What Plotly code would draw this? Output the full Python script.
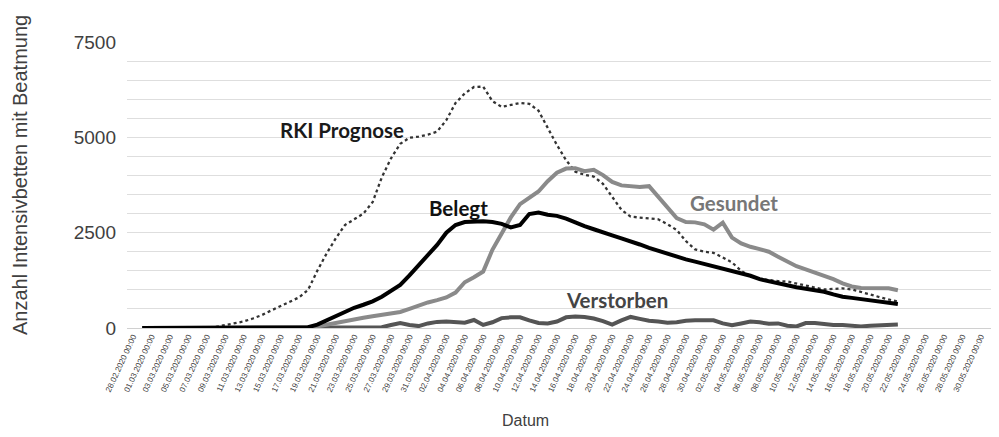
import pandas as pd
import plotly.graph_objects as go

# daily dates 29.02.2020 .. 21.05.2020
dates = pd.date_range("2020-02-29", "2020-05-21", freq="D")

belegt = [0] * 18 + [
    20, 90, 200, 330, 440, 530, 610, 700, 820, 970,
    1130, 1380, 1650, 1900, 2180, 2500, 2700, 2780, 2800, 2800,
    2780, 2730, 2640, 2700, 2990, 3030, 2970, 2940, 2870, 2760,
    2670, 2590, 2500, 2430, 2350, 2280, 2190, 2100, 2020, 1950,
    1870, 1800, 1740, 1680, 1610, 1550, 1500, 1450, 1370, 1280,
    1220, 1160, 1120, 1070, 1030, 990, 950, 880, 820, 790,
    760, 730, 700, 670, 630]

gesundet = [0] * 19 + [
    40, 90, 140, 190, 230, 270, 310, 340, 380, 420,
    500, 590, 670, 730, 800, 930, 1200, 1330, 1480, 2050,
    2500, 2900, 3250, 3420, 3580, 3850, 4070, 4180, 4190, 4110,
    4150, 4010, 3830, 3740, 3710, 3700, 3720, 3450, 3150, 2880,
    2780, 2770, 2720, 2580, 2760, 2370, 2220, 2130, 2070, 2000,
    1870, 1730, 1620, 1540, 1460, 1380, 1280, 1170, 1090, 1050,
    1050, 1060, 1040, 990]

verstorben = [0] * 26 + [
    20, 80, 130, 80, 50, 120, 160, 170, 150, 140,
    210, 80, 150, 260, 280, 280, 200, 130, 120, 170,
    280, 300, 290, 250, 180, 90, 200, 290, 240, 190,
    170, 140, 150, 190, 200, 190, 200, 120, 70, 120,
    170, 150, 110, 120, 60, 40, 130, 130, 100, 80,
    80, 50, 40, 60, 70, 80, 90]

rki_prognose = [None] * 8 + [
    30, 70, 120, 170, 250, 340, 460, 580, 690, 800,
    1000, 1500, 1950, 2350, 2700, 2850, 3000, 3300, 3950, 4450,
    4830, 4990, 5020, 5070, 5150, 5450, 5900, 6150, 6320, 6330,
    5950, 5800, 5850, 5900, 5880, 5700, 5250, 4800, 4400, 4100,
    4020, 3970, 3780, 3450, 3100, 2920, 2890, 2880, 2850, 2720,
    2570, 2280, 2060, 2000, 1970, 1850, 1720, 1500, 1360, 1290,
    1250, 1230, 1220, 1160, 1100, 1060, 1010, 1020, 1040, 1010,
    950, 880, 810, 740, 690]

y_ticks = [0, 2500, 5000, 7500]

# page body has an 8px default margin, so the figure is made 8px smaller
OFF = 8
W, H = 999 - OFF, 437 - OFF
PL, PR, PT, PB = 127, 995, 42, 328          # plot area in page pixels
L, R, T, B = PL - OFF, (W + OFF) - PR, PT - OFF, (H + OFF) - PB
pw, ph = PR - PL, PB - PT

fig = go.Figure()
fig.add_trace(go.Scatter(x=dates, y=rki_prognose, mode="lines", name="RKI Prognose",
                         line=dict(color="#333333", width=2.3, dash="dot")))
fig.add_trace(go.Scatter(x=dates, y=verstorben, mode="lines", name="Verstorben",
                         line=dict(color="#555555", width=4)))
fig.add_trace(go.Scatter(x=dates, y=gesundet, mode="lines", name="Gesundet",
                         line=dict(color="#8a8a8a", width=4)))
fig.add_trace(go.Scatter(x=dates, y=belegt, mode="lines", name="Belegt",
                         line=dict(color="#000000", width=4)))

ann_font = "Lato"
annotations = [
    dict(text="<b>RKI Prognose</b>", x="2020-03-21 17:00", y=5190, font=dict(color="#1a1a1a", size=20.5, family=ann_font)),
    dict(text="<b>Belegt</b>", x="2020-04-03 07:00", y=3150, font=dict(color="#111111", size=20.5, family=ann_font)),
    dict(text="<b>Gesundet</b>", x="2020-05-03 05:00", y=3280, font=dict(color="#777777", size=20.5, family=ann_font)),
    dict(text="<b>Verstorben</b>", x="2020-04-20 12:00", y=740, font=dict(color="#444444", size=20.5, family=ann_font)),
]
for a in annotations:
    a.update(xref="x", yref="y", showarrow=False, xanchor="center", yanchor="middle")

annotations.append(dict(text="Datum", xref="paper", yref="paper",
                        x=(525 - PL) / pw, y=(PB - 420) / ph, showarrow=False,
                        xanchor="center", yanchor="middle",
                        font=dict(size=16, color="#404040", family="Liberation Sans")))
annotations.append(dict(text="Anzahl Intensivbetten mit Beatmung", xref="paper", yref="paper",
                        x=(20 - PL) / pw, y=(PB - 175) / ph, showarrow=False, textangle=-90,
                        xanchor="center", yanchor="middle",
                        font=dict(size=20, color="#404040", family="Liberation Sans")))

fig.update_layout(
    width=W, height=H,
    margin=dict(l=L, r=R, t=T, b=B, autoexpand=False),
    paper_bgcolor="white", plot_bgcolor="white",
    showlegend=False,
    annotations=annotations,
    xaxis=dict(
        type="date",
        range=["2020-02-27 08:22", "2020-05-31 13:00"],
        tick0="2020-02-28", dtick=172800000,
        tickformat="%d.%m.%Y %H:%M",
        tickangle=-65,
        tickfont=dict(size=8, color="#404040", family="Liberation Sans"),
        showgrid=False, zeroline=False,
        showline=True, linecolor="#d0d0d0", linewidth=1,
        ticks="", automargin=False,
    ),
    yaxis=dict(
        range=[0, 7500],
        tickmode="array", tickvals=y_ticks, ticktext=[str(v) for v in y_ticks],
        tickfont=dict(size=19, color="#404040", family="Liberation Sans"),
        showgrid=True, gridcolor="#dedede", gridwidth=1,
        minor=dict(dtick=500, showgrid=True, gridcolor="#dedede", gridwidth=1),
        zeroline=False, showline=False, ticks="", ticklabelstandoff=10,
        automargin=False,
    ),
)

fig.write_html("out.html")
